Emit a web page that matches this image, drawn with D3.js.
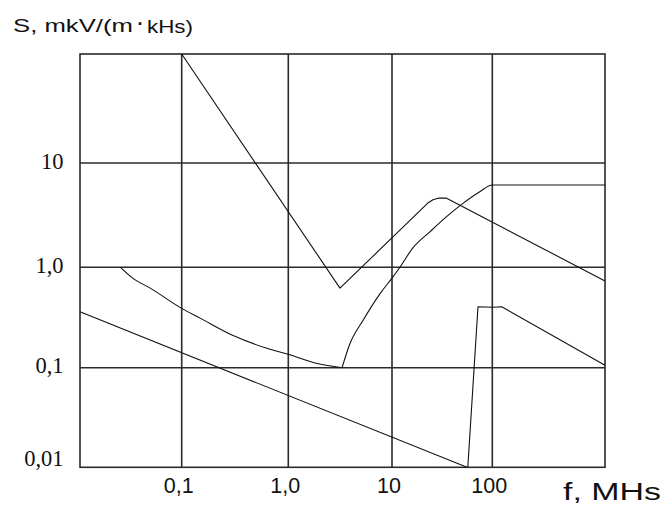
<!DOCTYPE html>
<html>
<head>
<meta charset="utf-8">
<script src="https://cdn.jsdelivr.net/npm/d3@7"></script>
<style>
  html, body { margin: 0; padding: 0; background: #fff; }
  svg { display: block; }
</style>
</head>
<body>
<svg id="chart" width="663" height="508"></svg>
<script>
// ---- data ----
const xTickValues = [0.1, 1, 10, 100];
const xTickLabels = ["0,1", "1,0", "10", "100"];
const yTickValues = [10, 1, 0.1, 0.01];
const yTickLabels = ["10", "1,0", "0,1", "0,01"];

// curve A: steep fall, V minimum, rounded peak, slow decline
const curveA_f = [0.1, 3.15, 23, 25.6, 29, 35, 1000];
const curveA_S = [100, 0.62, 4.16, 4.44, 4.6, 4.6, 0.73];

// curve B: smooth decline, minimum, concave rise to plateau
const curveB_f = [0.025, 0.033, 0.049, 0.1, 0.15, 0.3, 0.63, 1, 1.9, 3.3, 3.9, 5.3, 7.7, 10, 12, 16, 24, 35, 51, 75, 100, 1000];
const curveB_S = [1.0, 0.78, 0.62, 0.39, 0.31, 0.21, 0.156, 0.136, 0.11, 0.1, 0.17, 0.30, 0.55, 0.78, 1.0, 1.52, 2.2, 3.06, 4.1, 5.3, 6.15, 6.15];

// curve C: straight decline
const curveC_f = [0.01, 56];
const curveC_S = [0.36, 0.01];

// curve D: sharp rise, short plateau, decline
const curveD_f = [57, 72, 100, 121, 1000];
const curveD_S = [0.01, 0.405, 0.4, 0.405, 0.106];

const xLabel = "f, MHs";

// ---- layout ----
const svg = d3.select("#chart");
const L = 80, R = 605, T = 54, B = 467.3;

const x = d3.scaleLog()
  .domain([0.01, 0.1, 1, 10, 100, 1000])
  .range([L, 181.7, 288.3, 392, 492.3, R]);
const y = d3.scaleLog()
  .domain([0.01, 0.1, 1, 10, 100])
  .range([B, 367.7, 267.3, 163, T]);

const gridColor = "#2a2a2a";

// grid lines
svg.append("g").selectAll("line").data(xTickValues).join("line")
  .attr("x1", d => x(d)).attr("x2", d => x(d))
  .attr("y1", T).attr("y2", B)
  .attr("stroke", gridColor).attr("stroke-width", 1.6);
svg.append("g").selectAll("line").data(yTickValues.filter(v => v > 0.01)).join("line")
  .attr("x1", L).attr("x2", R)
  .attr("y1", d => y(d)).attr("y2", d => y(d))
  .attr("stroke", gridColor).attr("stroke-width", 1.6);

// frame
svg.append("rect")
  .attr("x", L).attr("y", T).attr("width", R - L).attr("height", B - T)
  .attr("fill", "none").attr("stroke", gridColor).attr("stroke-width", 1.6);

// curves
const line = d3.line().x(d => x(d[0])).y(d => y(d[1]));
const smooth = d3.line().x(d => x(d[0])).y(d => y(d[1])).curve(d3.curveMonotoneX);

const ptsB = d3.zip(curveB_f, curveB_S);
const iMin = d3.minIndex(curveB_S);

const g = svg.append("g")
  .attr("fill", "none").attr("stroke", "#111").attr("stroke-width", 1.1)
  .attr("stroke-linejoin", "round");
g.append("path").attr("d", line(d3.zip(curveA_f, curveA_S)));
g.append("path").attr("d", smooth(ptsB.slice(0, iMin + 1)));
g.append("path").attr("d", smooth(ptsB.slice(iMin)));
g.append("path").attr("d", line(d3.zip(curveC_f, curveC_S)));
g.append("path").attr("d", line(d3.zip(curveD_f, curveD_S)));

// y tick labels (serif)
svg.append("g").selectAll("text").data(yTickValues).join("text")
  .attr("x", 63.5)
  .attr("y", d => Math.min(y(d) + 5.5, B - 1.5))
  .attr("text-anchor", "end")
  .attr("font-family", "'Liberation Serif', 'Times New Roman', serif")
  .attr("font-size", 22.5)
  .attr("fill", "#111")
  .text((d, i) => yTickLabels[i]);

// x tick labels (sans)
svg.append("g").selectAll("text").data(xTickValues).join("text")
  .attr("x", d => x(d) - 3)
  .attr("y", 493.3)
  .attr("text-anchor", "middle")
  .attr("font-family", "'Liberation Sans', Arial, sans-serif")
  .attr("font-size", 21.5)
  .attr("fill", "#111")
  .text((d, i) => xTickLabels[i]);

// x axis title
svg.append("text")
  .attr("x", 563).attr("y", 500)
  .attr("font-family", "'Liberation Sans', Arial, sans-serif")
  .attr("font-size", 23)
  .attr("textLength", 98).attr("lengthAdjust", "spacingAndGlyphs")
  .attr("fill", "#111")
  .text(xLabel);

// y axis title
const title = svg.append("g")
  .attr("font-family", "'Liberation Sans', Arial, sans-serif")
  .attr("fill", "#111");
title.append("text")
  .attr("x", 13).attr("y", 31.5)
  .attr("font-size", 18.5)
  .attr("textLength", 120).attr("lengthAdjust", "spacingAndGlyphs")
  .text("S, mkV/(m");
title.append("text")
  .attr("x", 140.5).attr("y", 30)
  .attr("text-anchor", "middle")
  .attr("font-size", 18).attr("font-weight", "bold")
  .text("·");
title.append("text")
  .attr("x", 147).attr("y", 33)
  .attr("font-size", 18.5)
  .attr("textLength", 46).attr("lengthAdjust", "spacingAndGlyphs")
  .text("kHs)");
</script>
</body>
</html>
